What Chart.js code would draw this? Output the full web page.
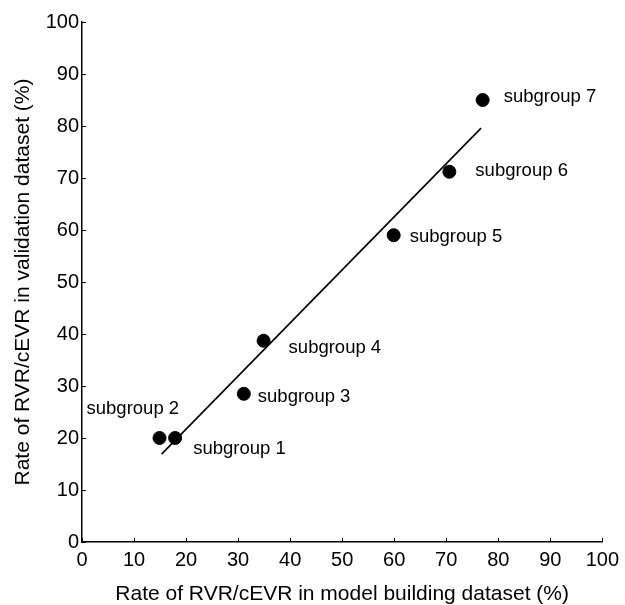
<!DOCTYPE html>
<html>
<head>
<meta charset="utf-8">
<script src="https://cdn.jsdelivr.net/npm/chart.js@4/dist/chart.umd.min.js"></script>
<style>
  html, body { margin: 0; padding: 0; background: #fff; }
  #wrap { width: 625px; height: 605px; }
</style>
</head>
<body>
<div id="wrap"><canvas id="c" width="625" height="605"></canvas></div>
<script>
// ---- data ----
const subgroups = ['subgroup 1', 'subgroup 2', 'subgroup 3', 'subgroup 4', 'subgroup 5', 'subgroup 6', 'subgroup 7'];
const modelRate = [17.9, 14.9, 31.1, 34.9, 59.9, 70.6, 77.0];
const validationRate = [20.0, 20.0, 28.5, 38.7, 59.0, 71.2, 85.0];
const fitX = [15.3, 76.7];
const fitY = [16.9, 79.6];
const xTicks = [0, 10, 20, 30, 40, 50, 60, 70, 80, 90, 100];
const yTicks = [0, 10, 20, 30, 40, 50, 60, 70, 80, 90, 100];

// ---- label placement (style only) ----
const labelOffsets = [[18, 11], [-73, -29], [14, 3], [25, 7], [16, 2], [26, -1], [21, -3]];

const FONT = "'Liberation Sans', Arial, Helvetica, sans-serif";

const pointLabels = {
  id: 'pointLabels',
  afterDatasetsDraw(chart) {
    const ctx = chart.ctx;
    const meta = chart.getDatasetMeta(0);
    ctx.save();
    ctx.fillStyle = '#000';
    ctx.font = '18.5px ' + FONT;
    ctx.textAlign = 'left';
    ctx.textBaseline = 'middle';
    meta.data.forEach((el, i) => {
      const o = labelOffsets[i];
      ctx.fillText(subgroups[i], el.x + o[0], el.y + o[1]);
    });
    ctx.restore();
  }
};

const inwardTicks = {
  id: 'inwardTicks',
  afterDraw(chart) {
    const ctx = chart.ctx;
    const xs = chart.scales.x, ys = chart.scales.y;
    const a = chart.chartArea;
    ctx.save();
    ctx.strokeStyle = '#000';
    ctx.lineWidth = 1;
    xTicks.forEach(v => {
      const px = Math.round(xs.getPixelForValue(v)) + 0.5;
      ctx.beginPath(); ctx.moveTo(px, a.bottom); ctx.lineTo(px, a.bottom - 4); ctx.stroke();
    });
    yTicks.forEach(v => {
      const py = Math.round(ys.getPixelForValue(v)) + 0.5;
      ctx.beginPath(); ctx.moveTo(a.left, py); ctx.lineTo(a.left + 4, py); ctx.stroke();
    });
    ctx.restore();
  }
};

new Chart(document.getElementById('c'), {
  type: 'scatter',
  data: {
    datasets: [
      {
        label: 'subgroups',
        data: modelRate.map((x, i) => ({ x: x, y: validationRate[i] })),
        backgroundColor: '#000',
        borderColor: '#000',
        pointRadius: 6.5,
        pointHoverRadius: 6.5,
        showLine: false,
        order: 1
      },
      {
        label: 'fit',
        data: fitX.map((x, i) => ({ x: x, y: fitY[i] })),
        borderColor: '#000',
        borderWidth: 1.6,
        pointRadius: 0,
        showLine: true,
        fill: false,
        order: 2
      }
    ]
  },
  options: {
    responsive: false,
    animation: false,
    events: [],
    layout: { padding: { left: 0, right: 19, top: 22, bottom: 0 } },
    plugins: {
      legend: { display: false },
      tooltip: { enabled: false }
    },
    scales: {
      x: {
        type: 'linear',
        min: 0, max: 100,
        afterBuildTicks: s => { s.ticks = xTicks.map(v => ({ value: v })); },
        afterFit: s => { s.height = 63; },
        border: { display: true, color: '#000', width: 1.5 },
        grid: { display: false, drawTicks: false },
        ticks: { color: '#000', font: { family: FONT, size: 20 }, padding: 6, maxRotation: 0, autoSkip: false },
        title: { display: true, text: 'Rate of RVR/cEVR in model building dataset (%)', color: '#000',
                 font: { family: FONT, size: 21, lineHeight: 1 }, padding: { top: 0, bottom: 0 } }
      },
      y: {
        type: 'linear',
        min: 0, max: 100,
        afterBuildTicks: s => { s.ticks = yTicks.map(v => ({ value: v })); },
        afterFit: s => { s.width = 82; },
        border: { display: true, color: '#000', width: 1.5 },
        grid: { display: false, drawTicks: false },
        ticks: { color: '#000', font: { family: FONT, size: 20 }, padding: 3, autoSkip: false },
        title: { display: true, text: 'Rate of RVR/cEVR in validation dataset (%)', color: '#000',
                 font: { family: FONT, size: 21, lineHeight: 1 }, padding: { top: 13, bottom: 0 } }
      }
    }
  },
  plugins: [pointLabels, inwardTicks]
});
</script>
</body>
</html>
